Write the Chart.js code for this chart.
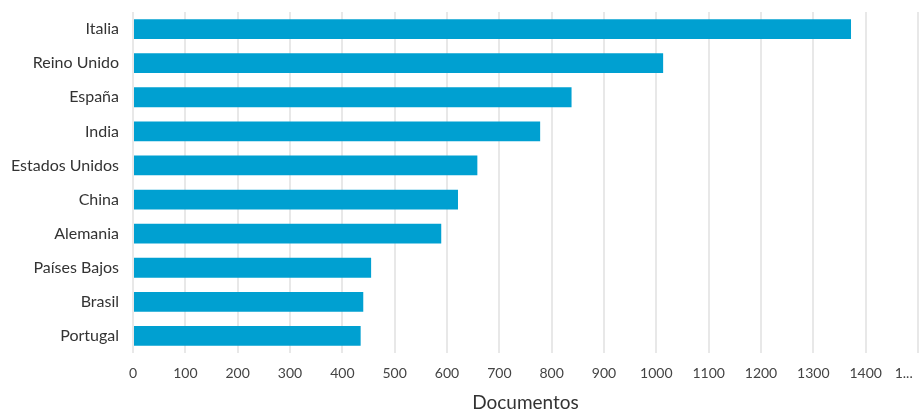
<!DOCTYPE html>
<html>
<head>
<meta charset="utf-8">
<script src="https://cdn.jsdelivr.net/npm/chart.js@4"></script>
<style>
  html, body { margin: 0; padding: 0; background: #fff; }
  #wrap { width: 922px; height: 414px; }
</style>
</head>
<body>
<div id="wrap"><canvas id="grafico"></canvas></div>
<script>
const paises = ['Italia', 'Reino Unido', 'España', 'India', 'Estados Unidos', 'China', 'Alemania', 'Países Bajos', 'Brasil', 'Portugal'];
const documentos = [1372, 1013, 838, 778, 658, 621, 589, 455, 440, 435];
const ticksX = [0, 100, 200, 300, 400, 500, 600, 700, 800, 900, 1000, 1100, 1200, 1300, 1400, 1500];

const fonte = "'Lato', 'Open Sans', sans-serif";

new Chart(document.getElementById('grafico'), {
    type: 'bar',
    data: {
        labels: paises,
        datasets: [{
            label: 'Documentos',
            data: documentos,
            backgroundColor: '#00a0d1',
            barPercentage: 0.58,
            categoryPercentage: 1
        }]
    },
    options: {
        indexAxis: 'y',
        responsive: true,
        maintainAspectRatio: false,
        animation: false,
        layout: { padding: { top: 12, right: 4, bottom: 0, left: 0 } },
        plugins: {
            legend: { display: false },
            tooltip: { enabled: false }
        },
        scales: {
            x: {
                min: 0,
                max: 1500,
                afterBuildTicks: function(scale) {
                    scale.ticks = ticksX.map(v => ({ value: v }));
                },
                afterFit: function(scale) {
                    scale.height = 61;
                    scale.paddingLeft = 0;
                    scale.paddingRight = 0;
                },
                ticks: {
                    color: '#444',
                    font: { family: fonte, size: 14 },
                    padding: 12,
                    maxRotation: 0,
                    autoSkip: false,
                    callback: function(value) {
                        // último rótulo cortado como no original
                        return value === 1500 ? '1...        ' : value;
                    }
                },
                grid: { color: '#e8e8e8', lineWidth: 2, drawTicks: false },
                border: { display: false },
                title: {
                    display: true,
                    text: 'Documentos',
                    color: '#333',
                    font: { family: fonte, size: 19 },
                    padding: { top: 9, bottom: 0 }
                }
            },
            y: {
                afterFit: function(scale) {
                    scale.width = 133;
                    // sem folga extra em cima/baixo por causa dos rótulos
                    scale.paddingTop = 0;
                    scale.paddingBottom = 0;
                },
                ticks: {
                    color: '#333',
                    font: { family: fonte, size: 16 },
                    padding: 14
                },
                grid: { display: false, drawTicks: false },
                border: { display: false }
            }
        }
    }
});
</script>
</body>
</html>
